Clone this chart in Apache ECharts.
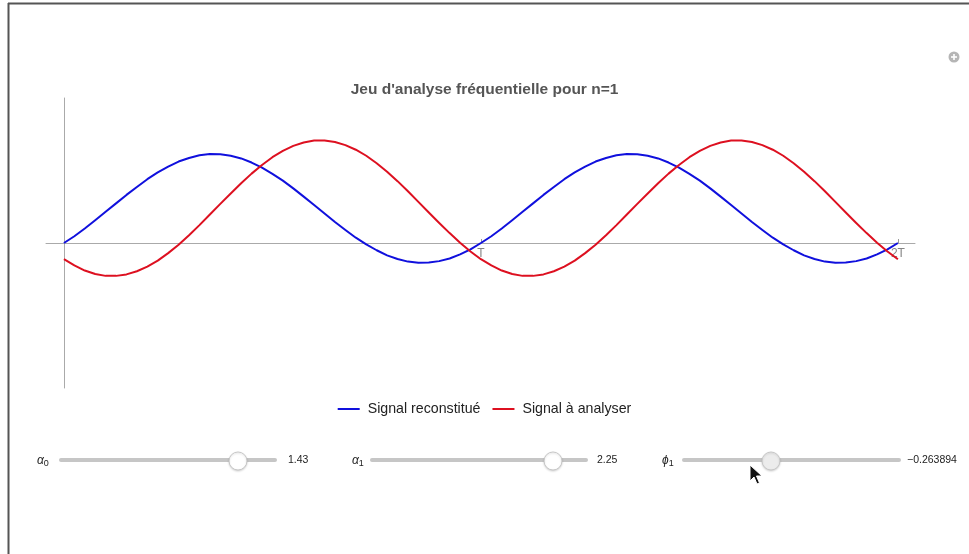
<!DOCTYPE html>
<html>
<head>
<meta charset="utf-8">
<script src="https://cdn.jsdelivr.net/npm/echarts@6/dist/echarts.min.js"></script>
<style>
html,body{margin:0;padding:0;background:#fff;}
#chart{width:969px;height:554px;}
</style>
</head>
<body>
<div id="chart"></div>
<script>
// ---- data ----
const titleText = "Jeu d'analyse fréquentielle pour n=1";
const seriesNames = ["Signal reconstitué", "Signal à analyser"];
const tValues = [0,0.025,0.05,0.075,0.1,0.125,0.15,0.175,0.2,0.225,0.25,0.275,0.3,0.325,0.35,0.375,0.4,0.425,0.45,0.475,
                 0.5,0.525,0.55,0.575,0.6,0.625,0.65,0.675,0.7,0.725,0.75,0.775,0.8,0.825,0.85,0.875,0.9,0.925,0.95,0.975,
                 1,1.025,1.05,1.075,1.1,1.125,1.15,1.175,1.2,1.225,1.25,1.275,1.3,1.325,1.35,1.375,1.4,1.425,1.45,1.475,
                 1.5,1.525,1.55,1.575,1.6,1.625,1.65,1.675,1.7,1.725,1.75,1.775,1.8,1.825,1.85,1.875,1.9,1.925,1.95,1.975,2];
const blueValues = [0.00,0.28,0.60,0.94,1.29,1.64,1.99,2.32,2.64,2.92,3.16,3.37,3.52,3.63,3.68,3.67,3.61,3.50,3.33,3.12,
                    2.86,2.58,2.26,1.92,1.57,1.22,0.87,0.54,0.22,-0.06,-0.30,-0.51,-0.66,-0.77,-0.82,-0.81,-0.75,-0.64,-0.47,-0.26,
                    0.00,0.28,0.60,0.94,1.29,1.64,1.99,2.32,2.64,2.92,3.16,3.37,3.52,3.63,3.68,3.67,3.61,3.50,3.33,3.12,
                    2.86,2.58,2.26,1.92,1.57,1.22,0.87,0.54,0.22,-0.06,-0.30,-0.51,-0.66,-0.77,-0.82,-0.81,-0.75,-0.64,-0.47,-0.26,0.00];
const redValues = [-0.67,-0.93,-1.14,-1.28,-1.36,-1.36,-1.30,-1.17,-0.98,-0.73,-0.42,-0.07,0.32,0.74,1.18,1.62,2.05,2.47,2.87,3.23,
                   3.55,3.81,4.02,4.16,4.24,4.24,4.18,4.05,3.86,3.61,3.30,2.95,2.56,2.14,1.70,1.26,0.83,0.41,0.01,-0.35,
                   -0.67,-0.93,-1.14,-1.28,-1.36,-1.36,-1.30,-1.17,-0.98,-0.73,-0.42,-0.07,0.32,0.74,1.18,1.62,2.05,2.47,2.87,3.23,
                   3.55,3.81,4.02,4.16,4.24,4.24,4.18,4.05,3.86,3.61,3.30,2.95,2.56,2.14,1.70,1.26,0.83,0.41,0.01,-0.35,-0.67];
const xTickValues = [1, 2];
const xTickLabels = ["T", "2T"];
const sliderNames = [["α", "0"], ["α", "1"], ["ϕ", "1"]];
const sliderValues = ["1.43", "2.25", "−0.263894"];

const FONT = "'Liberation Sans', Arial, Helvetica, sans-serif";
const chart = echarts.init(document.getElementById('chart'), null, {renderer: 'canvas'});

const blueData = tValues.map((t, i) => [t, blueValues[i]]);
const redData = tValues.map((t, i) => [t, redValues[i]]);
const tickLabelData = xTickValues.map((v, i) => ({value: [v, 0], name: xTickLabels[i]}));

// slider widgets (UI decoration)
const sliders = [
  {lx: 37, x0: 59, x1: 277, knob: 238, vx: 288, hover: false},
  {lx: 352, x0: 370, x1: 588, knob: 553, vx: 597, hover: false},
  {lx: 662, x0: 682, x1: 901, knob: 771, vx: 907, hover: true}
];
const sy = 460;
const graphics = [
  {type: 'line', shape: {x1: 8, y1: 3.5, x2: 969, y2: 3.5}, style: {stroke: '#555', lineWidth: 2}, silent: true},
  {type: 'line', shape: {x1: 8.5, y1: 3, x2: 8.5, y2: 554}, style: {stroke: '#555', lineWidth: 2}, silent: true},
  {type: 'circle', shape: {cx: 954, cy: 57, r: 5.5}, style: {fill: '#b5b5b5'}, silent: true},
  {type: 'line', shape: {x1: 951, y1: 57, x2: 957, y2: 57}, style: {stroke: '#fff', lineWidth: 1.6}, silent: true},
  {type: 'line', shape: {x1: 954, y1: 54, x2: 954, y2: 60}, style: {stroke: '#fff', lineWidth: 1.6}, silent: true}
];
sliders.forEach((s, i) => {
  graphics.push({
    type: 'text', x: s.lx, y: sy + 1, silent: true,
    style: {
      text: '{a|' + sliderNames[i][0] + '}{s|' + sliderNames[i][1] + '}',
      verticalAlign: 'middle',
      rich: {
        a: {fontFamily: FONT, fontSize: 12, fontStyle: 'italic', fill: '#222'},
        s: {fontFamily: FONT, fontSize: 9, fill: '#222', padding: [6, 0, 0, 0]}
      }
    }
  });
  graphics.push({type: 'rect', shape: {x: s.x0, y: sy - 2, width: s.x1 - s.x0, height: 4, r: 2},
    style: {fill: '#c6c6c6'}, silent: true});
  graphics.push({type: 'circle', shape: {cx: s.knob, cy: sy + 1, r: 9},
    style: {fill: s.hover ? '#ececec' : '#ffffff', stroke: '#c8c8c8', lineWidth: 1,
            shadowBlur: 2, shadowColor: 'rgba(0,0,0,0.15)', shadowOffsetY: 1}, silent: true});
  graphics.push({type: 'text', x: s.vx, y: sy, silent: true,
    style: {text: sliderValues[i], fontFamily: FONT, fontSize: 10.5, fill: '#222', verticalAlign: 'middle'}});
});
// mouse cursor
graphics.push({type: 'polygon', silent: true,
  shape: {points: [[750, 465], [750, 481], [754, 477], [757, 484], [759.5, 483], [756.5, 476], [762, 476]]},
  style: {fill: '#111', stroke: '#fff', lineWidth: 1}});

const option = {
  animation: false,
  backgroundColor: '#ffffff',
  title: {
    text: titleText, left: 'center', top: 77,
    textStyle: {fontFamily: FONT, fontSize: 15.5, fontWeight: 'bold', color: '#555'}
  },
  legend: {
    data: seriesNames, top: 397, left: 'center',
    itemWidth: 22, itemHeight: 2, itemGap: 12, icon: 'rect',
    textStyle: {fontFamily: FONT, fontSize: 14.2, color: '#222', padding: [0, 0, 0, 3]}
  },
  grid: {left: 46, right: 54, top: 98, bottom: 166, containLabel: false},
  xAxis: {
    type: 'value', min: -0.043, max: 2.041,
    axisLine: {onZero: true, lineStyle: {color: '#aaa', width: 1}},
    axisTick: {show: true, inside: true, length: 4, customValues: xTickValues, lineStyle: {color: '#999'}},
    axisLabel: {show: false},
    splitLine: {show: false}
  },
  yAxis: {
    type: 'value', min: -6, max: 6,
    axisLine: {show: true, onZero: true, lineStyle: {color: '#aaa', width: 1}},
    axisTick: {show: false}, axisLabel: {show: false}, splitLine: {show: false}
  },
  series: [
    {name: seriesNames[0], type: 'line', data: blueData, smooth: false, showSymbol: false,
     lineStyle: {color: '#1010dd', width: 2, join: 'round'}, itemStyle: {color: '#1010dd'}},
    {name: seriesNames[1], type: 'line', data: redData, smooth: false, showSymbol: false,
     lineStyle: {color: '#dd1020', width: 2, join: 'round'}, itemStyle: {color: '#dd1020'}},
    {name: 'tickLabels', type: 'scatter', data: tickLabelData, symbolSize: 0, silent: true, z: 1,
     label: {show: true, position: 'bottom', distance: 5, formatter: p => p.name,
             fontFamily: FONT, fontSize: 12, color: '#666'}}
  ],
  graphic: graphics
};
chart.setOption(option);
</script>
</body>
</html>
